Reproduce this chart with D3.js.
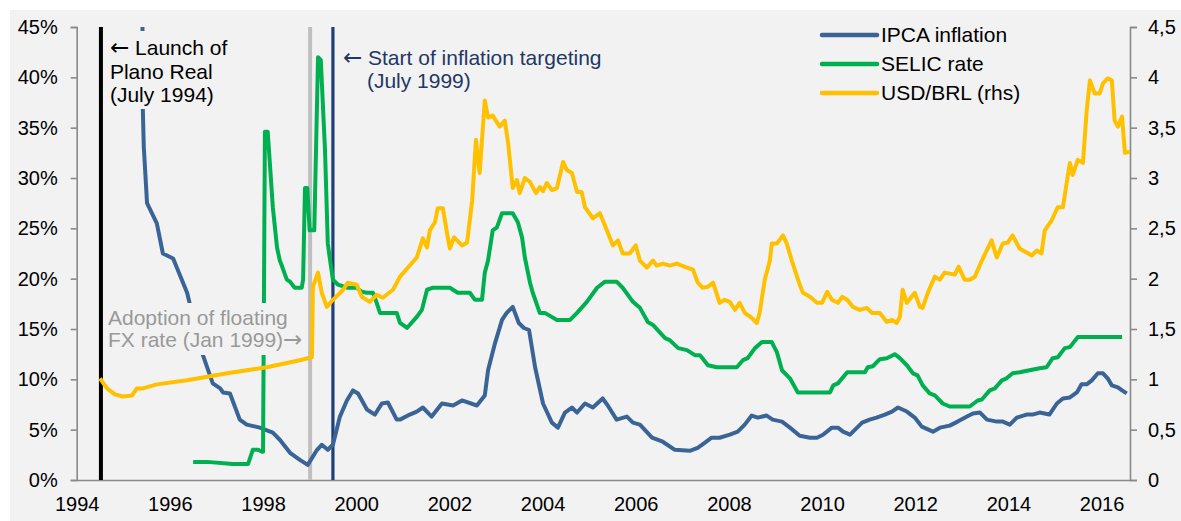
<!DOCTYPE html>
<html>
<head>
<meta charset="utf-8">
<script src="https://cdn.jsdelivr.net/npm/d3@7"></script>
<style>
  html, body { margin: 0; padding: 0; background: #ffffff; }
  svg { display: block; font-family: "Liberation Sans", Arial, Helvetica, sans-serif; }
</style>
</head>
<body>
<svg id="chart" width="1181" height="521"></svg>
<script>
// ---------- DATA (decimal years) ----------
const xTickYears = [1994,1996,1998,2000,2002,2004,2006,2008,2010,2012,2014,2016];
const leftTicks = [0,5,10,15,20,25,30,35,40,45];
const rightTicks = [0,0.5,1,1.5,2,2.5,3,3.5,4,4.5];

const seriesNames = ["IPCA inflation", "SELIC rate", "USD/BRL (rhs)"];

const ipcaT = [1995.41,1995.42,1995.44,1995.51,1995.72,1995.85,1996.07,1996.37,1996.65,1996.92,1997.08,1997.14,1997.29,1997.50,1997.65,1997.93,1998.21,1998.36,1998.58,1998.79,1998.96,1999.16,1999.26,1999.39,1999.50,1999.65,1999.80,1999.93,2000.04,2000.23,2000.40,2000.55,2000.68,2000.87,2000.94,2001.15,2001.30,2001.43,2001.62,2001.84,2002.08,2002.27,2002.59,2002.76,2002.83,2002.98,2003.13,2003.23,2003.36,2003.49,2003.60,2003.71,2003.84,2004.01,2004.20,2004.33,2004.48,2004.63,2004.74,2004.91,2005.08,2005.29,2005.40,2005.59,2005.81,2005.94,2006.09,2006.35,2006.58,2006.84,2007.16,2007.33,2007.48,2007.63,2007.80,2008.02,2008.19,2008.34,2008.49,2008.62,2008.81,2008.94,2009.14,2009.31,2009.52,2009.74,2009.89,2010.02,2010.21,2010.34,2010.45,2010.60,2010.86,2011.02,2011.17,2011.35,2011.50,2011.63,2011.82,2011.99,2012.14,2012.38,2012.53,2012.74,2012.91,2013.11,2013.24,2013.39,2013.54,2013.75,2013.88,2014.03,2014.18,2014.39,2014.52,2014.67,2014.88,2015.04,2015.17,2015.32,2015.47,2015.57,2015.68,2015.79,2015.92,2016.03,2016.13,2016.22,2016.35,2016.44,2016.54];
const ipcaV = [47,36.7,33.1,27.5,25.5,22.5,22.0,18.6,13.2,9.6,9.1,8.7,8.6,6.0,5.5,5.2,4.7,4.0,2.7,2.0,1.5,3.0,3.5,3.0,3.5,6.3,7.9,8.9,8.6,7.0,6.5,7.6,7.7,6.0,6.0,6.5,6.8,7.2,6.3,7.6,7.4,7.9,7.4,8.4,10.9,13.6,15.9,16.6,17.2,15.6,15.1,14.9,11.2,7.6,5.7,5.2,6.7,7.2,6.7,7.6,7.2,8.1,7.4,6.0,6.3,5.7,5.5,4.2,3.8,3.0,2.9,3.2,3.7,4.2,4.2,4.5,4.8,5.5,6.4,6.2,6.4,6.0,5.8,5.2,4.4,4.2,4.2,4.5,5.2,5.2,4.8,4.5,5.7,6.0,6.2,6.5,6.8,7.2,6.8,6.2,5.3,4.8,5.2,5.4,5.8,6.3,6.6,6.7,6.0,5.8,5.8,5.5,6.2,6.5,6.5,6.7,6.5,7.6,8.1,8.2,8.7,9.5,9.5,9.9,10.6,10.6,10.1,9.4,9.2,8.9,8.6];

const selicT = [1996.50,1996.80,1997.35,1997.68,1997.78,1997.89,1997.98,1998.00,1998.04,1998.10,1998.21,1998.30,1998.36,1998.41,1998.51,1998.58,1998.68,1998.83,1998.86,1998.90,1998.95,1999.00,1999.10,1999.18,1999.24,1999.33,1999.39,1999.44,1999.50,1999.61,1999.80,2000.01,2000.12,2000.23,2000.36,2000.44,2000.51,2000.87,2000.94,2001.09,2001.30,2001.41,2001.52,2001.65,2002.01,2002.18,2002.44,2002.55,2002.70,2002.76,2002.83,2002.93,2003.02,2003.13,2003.36,2003.47,2003.56,2003.62,2003.66,2003.73,2003.79,2003.94,2004.05,2004.31,2004.59,2004.74,2004.95,2005.17,2005.34,2005.59,2005.72,2005.94,2006.09,2006.26,2006.37,2006.63,2006.73,2006.91,2007.10,2007.27,2007.38,2007.55,2007.74,2008.17,2008.30,2008.40,2008.56,2008.71,2008.92,2009.03,2009.14,2009.31,2009.48,2010.17,2010.24,2010.34,2010.54,2010.92,2010.98,2011.09,2011.24,2011.39,2011.56,2011.67,2011.82,2011.95,2012.05,2012.16,2012.31,2012.42,2012.59,2012.74,2013.17,2013.34,2013.43,2013.60,2013.71,2013.86,2013.96,2014.09,2014.24,2014.67,2014.82,2014.95,2015.06,2015.21,2015.32,2015.49,2016.44];
const selicV = [1.8,1.8,1.6,1.6,3.0,3.0,2.8,2.8,34.6,34.6,27.1,23.1,21.8,21.2,19.9,19.7,19.1,19.1,19.9,29.0,29.0,24.8,24.8,42.0,41.7,32.8,23.5,21.8,19.9,19.4,19.1,19.1,18.7,18.6,18.6,17.6,16.6,16.6,15.6,15.1,16.2,16.9,18.9,19.1,19.1,18.6,18.6,17.9,17.9,20.6,21.8,24.8,25.1,26.5,26.5,25.6,24.1,22.1,21.2,19.6,18.6,16.6,16.6,15.9,15.9,16.6,17.7,19.1,19.7,19.7,19.1,17.7,17.1,15.7,15.4,14.1,13.9,13.1,12.9,12.4,12.4,11.4,11.2,11.2,11.9,12.1,13.1,13.7,13.7,12.7,10.9,10.1,8.7,8.7,9.4,9.6,10.7,10.7,11.2,11.3,12.0,12.1,12.5,12.1,11.4,10.6,10.4,9.4,8.6,8.4,7.6,7.3,7.3,7.9,8.0,8.9,9.1,9.9,10.1,10.6,10.7,11.1,11.2,12.1,12.2,13.1,13.2,14.2,14.2];

const usdT = [1994.50,1994.65,1994.82,1994.99,1995.19,1995.29,1995.42,1995.72,1996.37,1997.23,1998.08,1998.79,1999.05,1999.07,1999.18,1999.26,1999.37,1999.50,1999.72,1999.82,2000.01,2000.12,2000.29,2000.44,2000.57,2000.79,2000.94,2001.30,2001.43,2001.52,2001.58,2001.69,2001.75,2001.86,2001.95,2002.01,2002.10,2002.27,2002.38,2002.49,2002.57,2002.65,2002.76,2002.83,2002.93,2003.08,2003.19,2003.26,2003.36,2003.45,2003.51,2003.62,2003.73,2003.86,2003.94,2004.01,2004.09,2004.20,2004.31,2004.44,2004.52,2004.63,2004.74,2004.84,2004.91,2005.08,2005.23,2005.38,2005.51,2005.62,2005.72,2005.87,2006.00,2006.09,2006.24,2006.37,2006.45,2006.58,2006.73,2006.88,2007.10,2007.23,2007.33,2007.44,2007.55,2007.66,2007.80,2007.91,2008.02,2008.13,2008.23,2008.34,2008.49,2008.60,2008.66,2008.77,2008.88,2008.92,2009.03,2009.16,2009.24,2009.35,2009.52,2009.59,2009.74,2009.89,2010.00,2010.11,2010.21,2010.34,2010.43,2010.54,2010.66,2010.81,2010.96,2011.07,2011.24,2011.39,2011.50,2011.60,2011.67,2011.73,2011.82,2011.99,2012.10,2012.16,2012.27,2012.42,2012.53,2012.63,2012.85,2012.93,2013.06,2013.17,2013.28,2013.43,2013.64,2013.75,2013.88,2013.99,2014.09,2014.24,2014.39,2014.50,2014.61,2014.71,2014.78,2014.93,2015.06,2015.17,2015.25,2015.32,2015.38,2015.49,2015.60,2015.68,2015.75,2015.85,2015.96,2016.03,2016.13,2016.22,2016.28,2016.35,2016.44,2016.50,2016.61];
const usdV = [1.01,0.91,0.85,0.83,0.84,0.91,0.91,0.95,0.99,1.06,1.12,1.19,1.22,1.92,2.06,1.86,1.72,1.79,1.89,1.96,1.94,1.82,1.77,1.84,1.81,1.89,2.02,2.21,2.40,2.31,2.48,2.56,2.70,2.70,2.45,2.30,2.41,2.33,2.36,2.78,3.38,3.05,3.77,3.60,3.62,3.51,3.57,3.35,2.90,2.98,2.85,3.00,2.96,2.85,2.91,2.87,2.95,2.88,2.90,3.16,3.08,3.05,2.86,2.86,2.71,2.60,2.65,2.48,2.33,2.38,2.25,2.25,2.33,2.18,2.11,2.18,2.13,2.15,2.13,2.15,2.11,2.09,1.96,1.91,1.92,1.96,1.76,1.79,1.77,1.69,1.76,1.66,1.61,1.56,1.66,1.99,2.18,2.35,2.35,2.43,2.35,2.18,1.94,1.86,1.82,1.76,1.76,1.87,1.79,1.76,1.82,1.79,1.72,1.69,1.71,1.66,1.66,1.57,1.59,1.56,1.62,1.89,1.76,1.86,1.72,1.71,1.86,2.02,1.99,2.06,2.04,2.12,1.99,1.99,2.02,2.18,2.38,2.21,2.35,2.36,2.43,2.30,2.26,2.23,2.28,2.25,2.48,2.58,2.71,2.71,2.95,3.15,3.03,3.18,3.15,3.67,3.97,3.84,3.84,3.94,3.99,3.97,3.57,3.51,3.61,3.25,3.26];

// event markers
const eventYears = [1994.52, 1999.01, 1999.50];
const launchText = ["\u2190 Launch of", "Plano Real", "(July 1994)"];
const targetText = ["\u2190 Start of inflation targeting", "(July 1999)"];
const floatText = ["Adoption of floating", "FX rate (Jan 1999)\u2192"];

// ---------- LAYOUT ----------
const W = 1181, H = 521;
const plot = { left: 76.7, right: 1130, top: 27, bottom: 480 };
const colors = { ipca: "#3a6496", selic: "#00b050", usd: "#ffc000", axis: "#898989" };
const svg = d3.select("#chart");

svg.append("rect").attr("x", 10).attr("y", 10).attr("width", W - 10).attr("height", H - 10).attr("fill", "#f2f2f2");

const x = d3.scaleLinear().domain([1994, 2016.61]).range([plot.left, plot.right]);
const yL = d3.scaleLinear().domain([0, 45]).range([plot.bottom, plot.top]);
const yR = d3.scaleLinear().domain([0, 4.5]).range([plot.bottom, plot.top]);

svg.append("clipPath").attr("id", "plotclip").append("rect")
  .attr("x", plot.left).attr("y", plot.top)
  .attr("width", plot.right - plot.left).attr("height", plot.bottom - plot.top);

// ---------- AXES ----------
const fontSize = 20, annFont = 21;
const gLeft = svg.append("g").attr("transform", `translate(${plot.left},0)`)
  .call(d3.axisLeft(yL).tickValues(leftTicks).tickFormat(d => d + "%").tickSize(6).tickPadding(13));
const gRight = svg.append("g").attr("transform", `translate(${plot.right},0)`)
  .call(d3.axisRight(yR).tickValues(rightTicks).tickFormat(d => String(d).replace(".", ",")).tickSize(7).tickPadding(11));
const gBottom = svg.append("g").attr("transform", `translate(0,${plot.bottom})`)
  .call(d3.axisBottom(x).tickValues(xTickYears).tickFormat(d3.format("d")).tickSize(0).tickPadding(10));

[gLeft, gRight, gBottom].forEach(g => {
  g.select(".domain").attr("stroke", colors.axis).attr("stroke-width", 1.6);
  g.selectAll(".tick line").attr("stroke", colors.axis).attr("stroke-width", 1.6);
  g.selectAll(".tick text").attr("fill", "#000").style("font-size", fontSize + "px")
    .style("font-family", '"Liberation Sans", Arial, sans-serif');
});
gBottom.selectAll(".tick text").attr("dy", "1.05em");

// ---------- EVENT LINES ----------
const evStyles = [
  { color: "#000000", width: 4 },
  { color: "#bfbfbf", width: 4 },
  { color: "#1f3f7a", width: 3.2 }
];
svg.append("g").selectAll("line").data(eventYears).join("line")
  .attr("x1", d => x(d)).attr("x2", d => x(d))
  .attr("y1", plot.top).attr("y2", plot.bottom)
  .attr("stroke", (d, i) => evStyles[i].color)
  .attr("stroke-width", (d, i) => evStyles[i].width);

// ---------- SERIES ----------
const toPts = (T, V) => T.map((t, i) => [t, V[i]]);
const series = [
  { pts: toPts(ipcaT, ipcaV), y: yL, color: colors.ipca },
  { pts: toPts(selicT, selicV), y: yL, color: colors.selic },
  { pts: toPts(usdT, usdV), y: yR, color: colors.usd }
];
const gLines = svg.append("g").attr("clip-path", "url(#plotclip)");
series.forEach(s => {
  gLines.append("path")
    .attr("d", d3.line().x(d => x(d[0])).y(d => s.y(d[1]))(s.pts))
    .attr("fill", "none").attr("stroke", s.color).attr("stroke-width", 4)
    .attr("stroke-linejoin", "round").attr("stroke-linecap", "butt");
});

// ---------- ANNOTATIONS (with background boxes) ----------
const ARROWS = /([\u2190\u2192])/;
function annotate(lines, xs, y0, lh, color) {
  const g = svg.append("g");
  const bg = g.append("rect").attr("fill", "#f2f2f2");
  const t = g.append("text").attr("fill", color).style("font-size", annFont + "px");
  lines.forEach((ln, i) => {
    const parts = ln.split(ARROWS).filter(p => p.length);
    parts.forEach((p, j) => {
      const ts = t.append("tspan").text(p);
      if (j === 0) ts.attr("x", xs[i]).attr("y", y0 + i * lh);
      if (ARROWS.test(p)) ts.style("font-family", '"DejaVu Sans", sans-serif').style("font-size", "23px");
    });
  });
  const bb = t.node().getBBox();
  const pad = 4;
  bg.attr("x", bb.x - pad).attr("y", bb.y - pad + 1)
    .attr("width", bb.width + 2 * pad).attr("height", bb.height + 2 * pad - 2);
  return g;
}
const xL = x(eventYears[0]) + 9;
annotate(launchText, [xL, xL, xL], plot.top + 28, 23.5, "#000");
const xT = x(eventYears[2]) + 10;
annotate(targetText, [xT, xT + 24], plot.top + 38, 23, "#1f3864");
annotate(floatText, [108, 108], plot.top + 298, 22, "#999999");

// ---------- LEGEND ----------
const legX = 822, legY = 35, legGap = 29;
const legColors = [colors.ipca, colors.selic, colors.usd];
const gLeg = svg.append("g");
seriesNames.forEach((name, i) => {
  const yy = legY + i * legGap;
  gLeg.append("line").attr("x1", legX).attr("x2", legX + 55).attr("y1", yy).attr("y2", yy)
    .attr("stroke", legColors[i]).attr("stroke-width", 4.5).attr("stroke-linecap", "round");
  gLeg.append("text").attr("x", legX + 59).attr("y", yy).attr("dy", "0.35em")
    .style("font-size", annFont + "px").attr("fill", "#000").text(name);
});
</script>
</body>
</html>
